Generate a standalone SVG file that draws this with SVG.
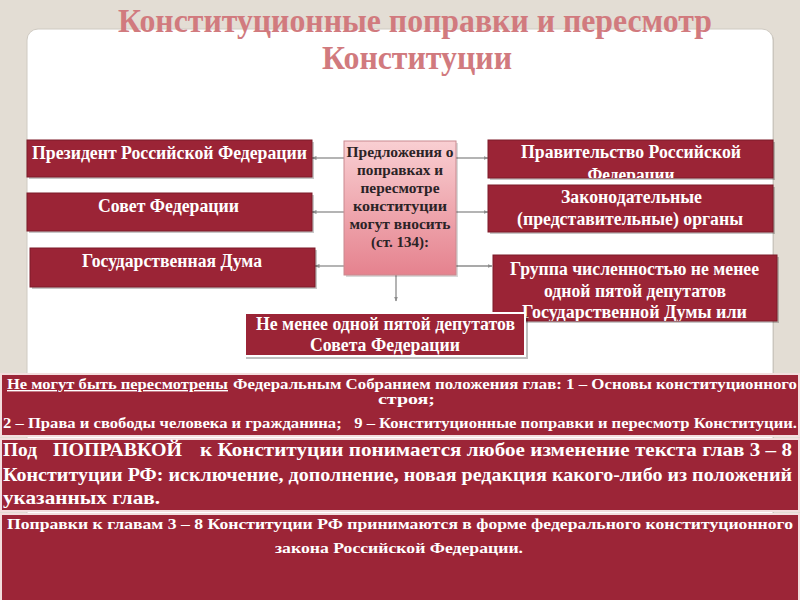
<svg xmlns="http://www.w3.org/2000/svg" width="800" height="600" viewBox="0 0 800 600">
<style>
.t{font-family:"Liberation Serif","Times New Roman",serif;font-weight:bold;}
.title{fill:#d17a7e;font-size:34px;}
.w{fill:#ffffff;font-size:18px;}
.c{fill:#2b2326;font-size:14px;}
.b1{fill:#ffffff;font-size:14px;}
.b2{fill:#ffffff;font-size:19px;}
.b3{fill:#ffffff;font-size:15px;}
.box{fill:#9b2436;stroke:#7d1a29;stroke-width:1;}
.sh{fill:#000000;opacity:0.22;}
.wide{fill:#9c2537;stroke:#f3dede;stroke-width:2;}
.con{stroke:#8c8c8c;stroke-width:1.3;fill:none;marker-end:url(#ah);}
</style>
<defs>
<marker id="ah" viewBox="0 0 10 10" refX="9" refY="5" markerWidth="5" markerHeight="5" orient="auto" markerUnits="userSpaceOnUse">
<path d="M0,1 L10,5 L0,9 z" fill="#8c8c8c"/>
</marker>
<linearGradient id="pink" x1="0" y1="0" x2="0" y2="1">
<stop offset="0" stop-color="#f9cfd2"/>
<stop offset="1" stop-color="#e5828e"/>
</linearGradient>
<clipPath id="clipGov"><rect x="488" y="140" width="285" height="38"/></clipPath>
<clipPath id="clipGr"><rect x="493" y="255" width="284" height="66"/></clipPath>
</defs>
<rect x="0" y="0" width="800" height="600" fill="#e3ddd4"/>
<rect x="28" y="30" width="746" height="600" rx="11" fill="#000" opacity="0.12"/>
<rect x="27" y="29" width="746" height="600" rx="11" fill="#ffffff" stroke="#cfcac2" stroke-width="1"/>
<g id="title">
<text class="t title" x="118" y="32" textLength="594" lengthAdjust="spacingAndGlyphs">Конституционные поправки и пересмотр</text>
<text class="t title" x="322" y="69" textLength="190" lengthAdjust="spacingAndGlyphs">Конституции</text>
</g>
<g id="connectors">
<line class="con" x1="344" y1="158" x2="312" y2="158"/>
<line class="con" x1="344" y1="212" x2="312" y2="212"/>
<line class="con" x1="344" y1="266" x2="315" y2="266"/>
<line class="con" x1="456" y1="158" x2="488" y2="158"/>
<line class="con" x1="456" y1="212" x2="488" y2="212"/>
<line class="con" x1="456" y1="266" x2="492" y2="266"/>
<line class="con" x1="396" y1="275" x2="396" y2="301"/>
</g>
<g id="president">
<rect class="sh" x="29" y="142" width="285" height="37"/>
<rect class="box" x="27" y="140" width="285" height="37"/>
<text class="t w" x="32" y="159" textLength="275" lengthAdjust="spacingAndGlyphs">Президент Российской Федерации</text>
</g>
<g id="sovet">
<rect class="sh" x="29" y="195" width="285" height="38"/>
<rect class="box" x="27" y="193" width="285" height="38"/>
<text class="t w" x="98" y="212" textLength="141" lengthAdjust="spacingAndGlyphs">Совет Федерации</text>
</g>
<g id="duma">
<rect class="sh" x="32" y="250" width="285" height="39"/>
<rect class="box" x="30" y="248" width="285" height="39"/>
<text class="t w" x="82" y="267" textLength="180" lengthAdjust="spacingAndGlyphs">Государственная Дума</text>
</g>
<g id="center">
<rect x="346" y="143" width="112" height="134" fill="#000" opacity="0.15"/>
<rect x="344" y="141" width="112" height="134" fill="url(#pink)" stroke="#c98a90" stroke-width="1"/>
<g class="t c" text-anchor="middle">
<text x="400" y="157" textLength="107" lengthAdjust="spacingAndGlyphs">Предложения о</text>
<text x="400" y="175" textLength="86" lengthAdjust="spacingAndGlyphs">поправках и</text>
<text x="400" y="193" textLength="79" lengthAdjust="spacingAndGlyphs">пересмотре</text>
<text x="400" y="211" textLength="94" lengthAdjust="spacingAndGlyphs">конституции</text>
<text x="400" y="229" textLength="101" lengthAdjust="spacingAndGlyphs">могут вносить</text>
<text x="400" y="247" textLength="58" lengthAdjust="spacingAndGlyphs">(ст. 134):</text>
</g>
</g>
<g id="government">
<rect class="sh" x="490" y="142" width="285" height="38"/>
<rect class="box" x="488" y="140" width="285" height="38"/>
<g clip-path="url(#clipGov)">
<text class="t w" x="521" y="158" textLength="220" lengthAdjust="spacingAndGlyphs">Правительство Российской</text>
<text class="t w" x="631" y="181" text-anchor="middle" textLength="87" lengthAdjust="spacingAndGlyphs">Федерации</text>
</g>
</g>
<g id="legislative">
<rect class="sh" x="490" y="187" width="285" height="47"/>
<rect class="box" x="488" y="185" width="285" height="47"/>
<text class="t w" x="561" y="203" textLength="141" lengthAdjust="spacingAndGlyphs">Законодательные</text>
<text class="t w" x="517" y="225" textLength="226" lengthAdjust="spacingAndGlyphs">(представительные) органы</text>
</g>
<g id="group">
<rect class="sh" x="495" y="257" width="284" height="66"/>
<rect class="box" x="493" y="255" width="284" height="66"/>
<g clip-path="url(#clipGr)">
<text class="t w" x="510" y="275" textLength="249" lengthAdjust="spacingAndGlyphs">Группа численностью не менее</text>
<text class="t w" x="544" y="297" textLength="182" lengthAdjust="spacingAndGlyphs">одной пятой депутатов</text>
<text class="t w" x="522" y="318" textLength="225" lengthAdjust="spacingAndGlyphs">Государственной Думы  или</text>
</g>
</g>
<g id="sovet-deputies">
<rect x="246" y="316" width="282" height="43" fill="#000" opacity="0.25"/>
<rect x="245" y="313" width="280" height="43" fill="#9b2436" stroke="#ffffff" stroke-width="2"/>
<text class="t w" x="256" y="330" textLength="259" lengthAdjust="spacingAndGlyphs">Не менее одной пятой депутатов</text>
<text class="t w" x="310" y="351" textLength="150" lengthAdjust="spacingAndGlyphs">Совета Федерации</text>
</g>
<g id="not-revised">
<rect class="wide" x="1" y="374" width="798" height="62"/>
<text class="t b1" x="7" y="389" textLength="221" lengthAdjust="spacingAndGlyphs" text-decoration="underline">Не могут быть пересмотрены</text>
<text class="t b1" x="233" y="389" textLength="564" lengthAdjust="spacingAndGlyphs">Федеральным Собранием положения глав:  1 – Основы конституционного</text>
<text class="t b1" x="378" y="404" textLength="57" lengthAdjust="spacingAndGlyphs">строя;</text>
<text class="t b1" x="3" y="428" textLength="794" lengthAdjust="spacingAndGlyphs" style="white-space:pre">2 – Права и свободы человека и гражданина;   9 – Конституционные поправки и пересмотр Конституции.</text>
</g>
<g id="amendment-def">
<rect class="wide" x="1" y="439" width="798" height="72"/>
<text class="t b2" x="3" y="456" textLength="34" lengthAdjust="spacingAndGlyphs">Под</text>
<text class="t b2" x="53" y="456" textLength="129" lengthAdjust="spacingAndGlyphs">ПОПРАВКОЙ</text>
<text class="t b2" x="200" y="456" textLength="592" lengthAdjust="spacingAndGlyphs">к Конституции понимается любое изменение текста глав 3 – 8</text>
<text class="t b2" x="3" y="481" textLength="789" lengthAdjust="spacingAndGlyphs">Конституции  РФ: исключение, дополнение, новая редакция какого-либо из положений</text>
<text class="t b2" x="3" y="504" textLength="157" lengthAdjust="spacingAndGlyphs">указанных глав.</text>
</g>
<g id="amendment-law">
<rect class="wide" x="1" y="514" width="798" height="90"/>
<text class="t b3" x="7" y="529" textLength="786" lengthAdjust="spacingAndGlyphs">Поправки к главам 3 – 8 Конституции РФ принимаются в форме федерального конституционного</text>
<text class="t b3" x="275" y="553" textLength="248" lengthAdjust="spacingAndGlyphs">закона Российской Федерации.</text>
</g>
</svg>
